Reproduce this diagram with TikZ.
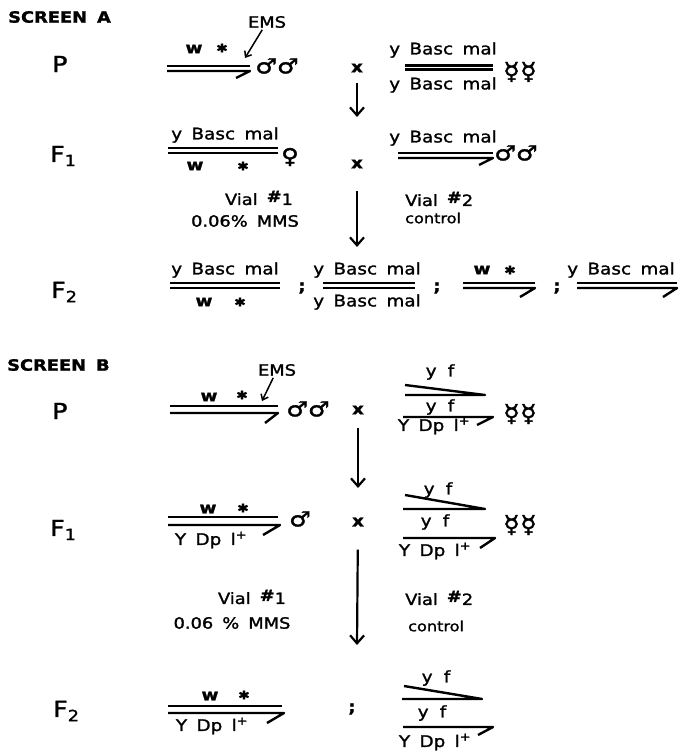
\documentclass[tikz,border=0pt]{standalone}
\usepackage{fontspec}
\setmainfont{DejaVu Sans}[FakeStretch=1.15,WordSpace=1.6,FakeBold=1.5]
\usepackage{tikz}
\usetikzlibrary{arrows.meta}

\tikzset{
  title/.style={font=\bfseries\fontsize{15.5}{17}\selectfont, anchor=west, inner sep=0pt},
  genlab/.style={font=\fontsize{22}{24}\selectfont, anchor=west, inner sep=0pt},
  gene/.style={font=\fontsize{16}{18}\selectfont, inner sep=0pt},
  mutn/.style={font=\fontsize{12}{14}\selectfont, inner sep=0pt},
  note/.style={font=\fontsize{15.5}{17}\selectfont, inner sep=0pt},
  small/.style={font=\fontsize{14}{16}\selectfont, inner sep=0pt},
  sexsym/.style={font=\fontsize{21}{23}\selectfont, inner sep=0pt},
  attsym/.style={font=\fontsize{24}{26}\selectfont, inner sep=0pt},
  cross/.style={font=\bfseries\fontsize{16}{18}\selectfont, inner sep=0pt},
  chrom/.style={line width=2.4pt, line join=round},
  fatchrom/.style={line width=3pt},
  descent/.style={line width=2.2pt, -{Straight Barb[length=8pt,width=14pt,line width=2.2pt]}},
  hit/.style={line width=1.5pt, shorten <=2pt, -{Straight Barb[length=5pt,width=8pt,line width=1.5pt]}}
}

\begin{document}
\begin{tikzpicture}[x=1pt,y=-1pt]
  \useasboundingbox (0,0) rectangle (678,751);

  % Screen A
  \node[title] (titleA) at (8,17) {SCREEN A};
  \node[genlab] (pA) at (52,64) {P};
  \node[genlab] (f1A) at (50,156) {F\textsubscript{1}};
  \node[genlab] (f2A) at (51,292) {F\textsubscript{2}};

  % P: mutagenized males x attached-X females
  \draw[chrom] (167,66) -- (250,66);
  \draw[chrom] (167,71) -- (250,71) -- (236,78);
  \node[gene] (wPA) at (194,49) {\textbf{w}};
  \node[mutn] (mPA) at (222,48) {✱};
  \node[note] (emsA) at (267,22) {EMS};
  \coordinate (hitA) at (245,58);
  \draw[hit] (emsA) -- (hitA);
  \node[sexsym] (malePA) at (277,66) {♂♂};
  \node[cross] (xA1) at (357,68) {x};
  \node[gene] (fTopPA) at (443,50) {y Basc mal};
  \draw[fatchrom] (405,66) -- (493,66);
  \draw[fatchrom] (405,70) -- (493,70);
  \node[gene] (fBotPA) at (443,85) {y Basc mal};
  \node[attsym] (femPA) at (520,72) {☿☿};
  \coordinate (endA1) at (357,117);
  \draw[descent, shorten <=10pt] (xA1) -- (endA1);

  % F1
  \node[gene] (fTopF1A) at (225,135) {y Basc mal};
  \draw[chrom] (168,148) -- (278,148);
  \draw[chrom] (168,153) -- (278,153);
  \node[gene] (wF1A) at (195,166) {\textbf{w}};
  \node[mutn] (mF1A) at (243,166) {✱};
  \node[sexsym] (femF1A) at (290,157) {♀};
  \node[cross] (xA2) at (357,164) {x};
  \node[gene] (mTopF1A) at (443,138) {y Basc mal};
  \draw[chrom] (398,153) -- (493,153);
  \draw[chrom] (398,158) -- (493,158) -- (479,165);
  \node[sexsym] (maleF1A) at (516,153) {♂♂};
  \node[note] (vial1A) at (259,198) {Vial \raisebox{3pt}{\textbf{\#}}1};
  \node[note] (mmsA) at (245,221) {0.06\% MMS};
  \node[note, anchor=west] (vial2A) at (405,199) {Vial \raisebox{3pt}{\textbf{\#}}2};
  \node[small, anchor=west] (ctrlA) at (405,218) {control};
  \coordinate (endA2) at (357,247);
  \draw[descent, shorten <=22pt] (xA2) -- (endA2);

  % F2
  \node[gene] (g1TopA) at (225,270) {y Basc mal};
  \draw[chrom] (170,283) -- (280,283);
  \draw[chrom] (170,288) -- (280,288);
  \node[gene] (w1A) at (204,302) {\textbf{w}};
  \node[mutn] (m1A) at (240,302) {✱};
  \node[cross] (semi1A) at (302,288) {;};
  \node[gene] (g2TopA) at (367,270) {y Basc mal};
  \draw[chrom] (323,283) -- (415,283);
  \draw[chrom] (323,288) -- (415,288);
  \node[gene] (g2BotA) at (367,302) {y Basc mal};
  \node[cross] (semi2A) at (437,288) {;};
  \node[gene] (w3A) at (482,270) {\textbf{w}};
  \node[mutn] (m3A) at (510,270) {✱};
  \draw[chrom] (463,283) -- (535,283);
  \draw[chrom] (463,288) -- (535,288) -- (520,297);
  \node[cross] (semi3A) at (557,288) {;};
  \node[gene] (g4TopA) at (621,270) {y Basc mal};
  \draw[chrom] (577,283) -- (677,283);
  \draw[chrom] (577,288) -- (677,288) -- (663,297);

  % Screen B
  \node[title] (titleB) at (7,365) {SCREEN B};
  \node[genlab] (pB) at (52,411) {P};
  \node[genlab] (f1B) at (50,530) {F\textsubscript{1}};
  \node[genlab] (f2B) at (53,711) {F\textsubscript{2}};

  % P: mutagenized males x compound females
  \draw[chrom] (170,406) -- (278,406);
  \draw[chrom] (170,413) -- (278,413) -- (265,423);
  \node[gene] (wPB) at (209,397) {\textbf{w}};
  \node[mutn] (mPB) at (242,395) {✱};
  \node[note] (emsB) at (277,370) {EMS};
  \coordinate (hitB) at (262,401);
  \draw[hit] (emsB) -- (hitB);
  \node[sexsym] (malePB) at (308,409) {♂♂};
  \node[cross] (xB1) at (358,410) {x};
  \node[gene] (yfTopPB) at (440,372) {y\hspace{0.7em}f};
  \draw[chrom] (405,385) -- (485,395) -- (405,395);
  \node[gene] (yfBotPB) at (440,407) {y\hspace{0.7em}f};
  \draw[chrom] (403,417) -- (493,417) -- (477,425);
  \node[gene] (dpPB) at (434,426) {Y Dp l\textsuperscript{+}};
  \node[attsym] (femPB) at (520,414) {☿☿};
  \coordinate (endB1) at (358,488);
  \draw[descent, shorten <=13pt] (xB1) -- (endB1);

  % F1
  \draw[chrom] (168,517) -- (278,517);
  \draw[chrom] (168,525) -- (280,525) -- (263,535);
  \node[gene] (wF1B) at (208,509) {\textbf{w}};
  \node[mutn] (mF1B) at (243,508) {✱};
  \node[gene] (dpF1B) at (211,540) {Y Dp l\textsuperscript{+}};
  \node[sexsym] (maleF1B) at (300,519) {♂};
  \node[cross] (xB2) at (358,522) {x};
  \node[gene] (yfTopF1B) at (438,490) {y\hspace{0.7em}f};
  \draw[chrom] (405,495) -- (485,509) -- (403,509);
  \node[gene] (yfBotF1B) at (435,522) {y\hspace{0.7em}f};
  \draw[chrom] (403,538) -- (495,538) -- (480,548);
  \node[gene] (dpF1Bf) at (435,551) {Y Dp l\textsuperscript{+}};
  \node[attsym] (femF1B) at (520,525) {☿☿};
  \node[note] (vial1B) at (252,597) {Vial \raisebox{3pt}{\textbf{\#}}1};
  \node[note] (mmsB) at (232,623) {0.06 \% MMS};
  \node[note, anchor=west] (vial2B) at (405,598) {Vial \raisebox{3pt}{\textbf{\#}}2};
  \node[small, anchor=west] (ctrlB) at (408,626) {control};
  \coordinate (endB2) at (357,645);
  \draw[descent, shorten <=23pt] (xB2) -- (endB2);

  % F2
  \draw[chrom] (168,706) -- (282,706);
  \draw[chrom] (168,713) -- (284,713) -- (267,723);
  \node[gene] (wF2B) at (210,696) {\textbf{w}};
  \node[mutn] (mF2B) at (244,695) {✱};
  \node[gene] (dpF2B) at (212,726) {Y Dp l\textsuperscript{+}};
  \node[cross] (semiB) at (352,709) {;};
  \node[gene] (yfTopF2B) at (436,678) {y\hspace{0.7em}f};
  \draw[chrom] (404,686) -- (482,699) -- (402,699);
  \node[gene] (yfBotF2B) at (432,713) {y\hspace{0.7em}f};
  \draw[chrom] (403,727) -- (493,727) -- (478,735);
  \node[gene] (dpF2Bf) at (435,742) {Y Dp l\textsuperscript{+}};
\end{tikzpicture}
\end{document}
